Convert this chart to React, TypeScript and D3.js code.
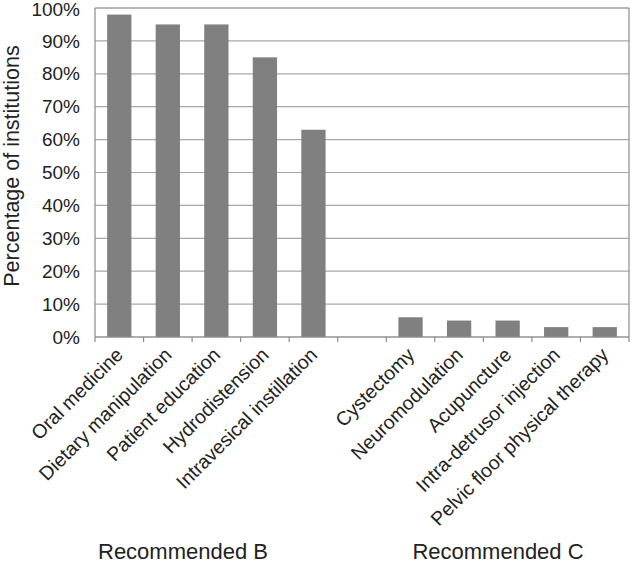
import React from "react";
import * as d3 from "d3";

const categories = [
  "Oral medicine",
  "Dietary manipulation",
  "Patient education",
  "Hydrodistension",
  "Intravesical instillation",
  "",
  "Cystectomy",
  "Neuromodulation",
  "Acupuncture",
  "Intra-detrusor injection",
  "Pelvic floor physical therapy",
];
const values: (number | null)[] = [98, 95, 95, 85, 63, null, 6, 5, 5, 3, 3];
const yTicks = [0, 10, 20, 30, 40, 50, 60, 70, 80, 90, 100];
const groupLabels = ["Recommended B", "Recommended C"];

const W = 634;
const H = 565;
const margin = { left: 95, right: 5, top: 8, bottom: 228 };
const FONT = "'Liberation Sans', Arial, Helvetica, sans-serif";
const groupX = [183, 498];

export default function App() {
  const x = d3
    .scaleBand<number>()
    .domain(categories.map((_, i) => i))
    .range([margin.left, W - margin.right])
    .paddingInner(0)
    .paddingOuter(0);
  const y = d3.scaleLinear().domain([0, 100]).range([H - margin.bottom, margin.top]);
  const bw = x.bandwidth();
  const barW = bw * 0.5;
  const y0 = y(0);
  const boundaries = d3.range(categories.length + 1).map((i) => margin.left + i * bw);

  return (
    <svg
      width={W}
      height={H}
      style={{ position: "absolute", left: 0, top: 0, background: "#fff" }}
      fontFamily={FONT}
    >
      {/* gridlines */}
      {yTicks.map((t) => (
        <line
          key={"g" + t}
          x1={margin.left}
          x2={W - margin.right}
          y1={y(t)}
          y2={y(t)}
          stroke={t === 100 ? "#6e6e6e" : "#a8a8a8"}
          strokeWidth={1.2}
        />
      ))}
      {/* right border */}
      <line x1={W - margin.right} x2={W - margin.right} y1={y(100)} y2={y0} stroke="#8a8a8a" strokeWidth={1.2} />
      {/* bars */}
      {values.map((v, i) =>
        v == null ? null : (
          <rect
            key={"b" + i}
            x={(x(i) as number) + (bw - barW) / 2}
            y={y(v)}
            width={barW}
            height={y0 - y(v)}
            fill="#808080"
          />
        )
      )}
      {/* axes */}
      <line x1={margin.left} x2={margin.left} y1={y(100)} y2={y0} stroke="#8a8a8a" strokeWidth={1.2} />
      <line x1={margin.left} x2={W - margin.right} y1={y0} y2={y0} stroke="#8a8a8a" strokeWidth={1.2} />
      {boundaries.map((bx, i) => (
        <line key={"t" + i} x1={bx} x2={bx} y1={y0} y2={y0 + 5} stroke="#8a8a8a" strokeWidth={1.2} />
      ))}
      {/* y tick labels */}
      {yTicks.map((t) => (
        <text
          key={"yl" + t}
          x={80}
          y={y(t) + (t === 100 ? 1.5 : 0)}
          dy="0.35em"
          textAnchor="end"
          fontSize={19}
          fill="#222"
        >
          {t + "%"}
        </text>
      ))}
      {/* y title */}
      <text transform={`translate(19,166) rotate(-90)`} textAnchor="middle" fontSize={21.5} fill="#222">
        Percentage of institutions
      </text>
      {/* x labels */}
      {categories.map((c, i) =>
        c ? (
          <text
            key={"xl" + i}
            transform={`translate(${(x(i) as number) + bw / 2 + 5},${y0 + 19}) rotate(-45)`}
            textAnchor="end"
            fontSize={19.5}
            fill="#222"
          >
            {c}
          </text>
        ) : null
      )}
      {/* group labels */}
      {groupLabels.map((g, i) => (
        <text key={g} x={groupX[i]} y={559} textAnchor="middle" fontSize={22} fill="#222">
          {g}
        </text>
      ))}
    </svg>
  );
}
